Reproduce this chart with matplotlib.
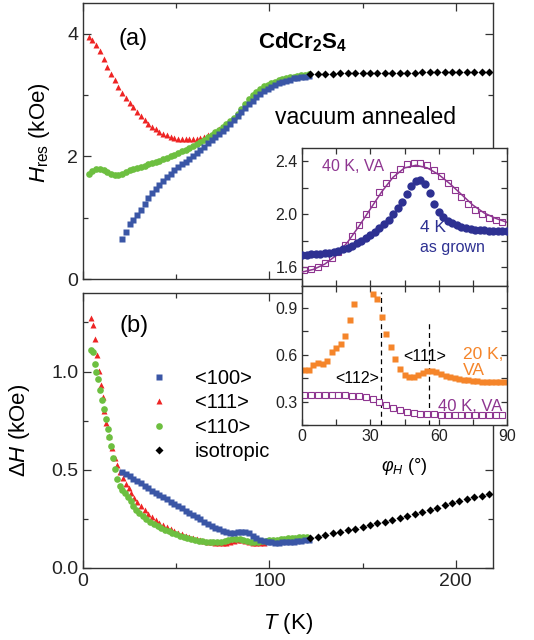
import numpy as np
import matplotlib.pyplot as plt
from matplotlib.ticker import MultipleLocator

plt.rcParams['font.family'] = ['Liberation Sans', 'DejaVu Sans']
plt.rcParams['mathtext.fontset'] = 'custom'
plt.rcParams['mathtext.rm'] = 'Liberation Sans'
plt.rcParams['mathtext.it'] = 'Liberation Sans:italic'
plt.rcParams['mathtext.bf'] = 'Liberation Sans:bold'

# ---- panel (a): resonance field vs T ----
T_red_a = [3, 5, 7, 9, 11, 13, 15, 17, 19, 21, 23, 25, 27, 29, 31, 33, 35, 37, 39,
           41, 43, 45, 47, 49, 51, 53, 55, 57, 59, 61, 63, 65, 67, 69, 71, 73, 75]
H_red = [3.95, 3.90, 3.82, 3.72, 3.58, 3.45, 3.34, 3.24, 3.13, 3.04, 2.95, 2.87, 2.80,
         2.72, 2.65, 2.59, 2.53, 2.48, 2.44, 2.40, 2.37, 2.34, 2.31, 2.30, 2.29, 2.28,
         2.28, 2.28, 2.28, 2.29, 2.30, 2.32, 2.34, 2.37, 2.40, 2.44, 2.48]

T_grn_a = [3, 5, 7, 9, 11, 13, 15, 17, 19, 21, 23, 25, 27, 29, 31, 33, 35, 37, 39, 41,
           43, 45, 47, 49, 51, 53, 55, 57, 59, 61, 63, 65, 67, 69, 71, 73, 75, 77, 79,
           81, 83, 85, 87, 89, 91, 93, 95, 97, 99, 101, 103, 105, 107, 109, 111, 113,
           115, 117, 119, 121]
H_grn = [1.71, 1.76, 1.79, 1.79, 1.77, 1.74, 1.71, 1.69, 1.70, 1.72, 1.75, 1.77, 1.79,
         1.81, 1.83, 1.85, 1.87, 1.89, 1.91, 1.93, 1.95, 1.98, 2.00, 2.02, 2.05, 2.08,
         2.11, 2.14, 2.17, 2.20, 2.23, 2.27, 2.31, 2.35, 2.39, 2.43, 2.48, 2.52, 2.57,
         2.62, 2.69, 2.77, 2.85, 2.93, 3.00, 3.05, 3.10, 3.14, 3.17, 3.19, 3.22, 3.24,
         3.26, 3.28, 3.29, 3.30, 3.31, 3.32, 3.33, 3.34]

T_blu_a = [21, 23, 25, 27, 29, 31, 33, 35, 37, 39, 41, 43, 45, 47, 49, 51, 53, 55, 57,
           59, 61, 63, 65, 67, 69, 71, 73, 75, 77, 79, 81, 83, 85, 87, 89, 91, 93, 95,
           97, 99, 101, 103, 105, 107, 109, 111, 113, 115, 117, 119, 121]
H_blu = [0.645, 0.77, 0.89, 0.97, 1.05, 1.13, 1.23, 1.32, 1.40, 1.47, 1.54, 1.60, 1.66,
         1.72, 1.77, 1.82, 1.87, 1.91, 1.96, 2.01, 2.06, 2.11, 2.16, 2.22, 2.27, 2.32,
         2.37, 2.42, 2.47, 2.53, 2.59, 2.65, 2.72, 2.78, 2.85, 2.91, 2.97, 3.02, 3.06,
         3.10, 3.13, 3.16, 3.19, 3.21, 3.23, 3.25, 3.27, 3.28, 3.29, 3.30, 3.31]

T_iso = [122, 126, 130, 134, 138, 142, 146, 150, 154, 158, 162, 166, 170, 174, 178,
         182, 186, 190, 194, 198, 202, 206, 210, 214, 218]
H_iso = [3.34, 3.345, 3.35, 3.35, 3.355, 3.355, 3.36, 3.36, 3.36, 3.36, 3.365, 3.365,
         3.365, 3.365, 3.365, 3.37, 3.37, 3.37, 3.37, 3.37, 3.37, 3.37, 3.37, 3.37, 3.37]

# ---- panel (b): linewidth vs T ----
T_red_b = [4.5, 5.5, 6.5, 7.5, 8.5, 9.5, 10.5, 11.5, 12.5, 14, 15.5, 17, 18.5, 20, 21.5,
           23, 24.5, 26, 27.5, 29, 31, 33, 35, 37, 39, 41, 43, 45, 47, 49, 51, 53, 55,
           57, 59, 61, 63, 65, 67, 69, 71, 73, 75, 77, 79, 81, 83, 85, 87, 89, 91, 93,
           95, 97]
dH_red = [1.275, 1.235, 1.165, 1.085, 1.005, 0.93, 0.87, 0.80, 0.74, 0.67, 0.61, 0.56,
          0.525, 0.49, 0.46, 0.43, 0.405, 0.38, 0.358, 0.338, 0.315, 0.295, 0.276,
          0.258, 0.243, 0.23, 0.218, 0.207, 0.197, 0.188, 0.18, 0.172, 0.165, 0.158,
          0.152, 0.146, 0.141, 0.137, 0.133, 0.13, 0.128, 0.127, 0.127, 0.129, 0.133,
          0.14, 0.145, 0.143, 0.137, 0.132, 0.129, 0.128, 0.128, 0.129]

T_grn_b = [4.5, 5.5, 6.3, 7.2, 8.2, 9.2, 10.2, 11.2, 12.2, 13.2, 14.2, 15.2, 16.3, 17.4,
           18.5, 19.6, 21, 22.5, 24, 25.5, 27, 28.5, 30, 32, 34, 36, 38, 40, 42, 44, 46,
           48, 50, 52, 54, 56, 58, 60, 62, 64, 66, 68, 70, 72, 74, 76, 78, 80, 82, 84,
           86, 88, 90, 92, 94, 96, 98, 100, 102, 104, 106, 108, 110, 112, 114, 116, 118,
           120]
dH_grn = [1.112, 1.10, 1.04, 1.00, 0.96, 0.905, 0.855, 0.81, 0.76, 0.71, 0.665, 0.62,
          0.56, 0.505, 0.455, 0.42, 0.398, 0.38, 0.36, 0.342, 0.316, 0.296, 0.282,
          0.266, 0.25, 0.236, 0.224, 0.213, 0.203, 0.194, 0.186, 0.178, 0.171, 0.164,
          0.158, 0.152, 0.147, 0.142, 0.138, 0.135, 0.133, 0.131, 0.131, 0.132, 0.134,
          0.137, 0.141, 0.146, 0.150, 0.149, 0.143, 0.137, 0.134, 0.133, 0.134, 0.136,
          0.139, 0.141, 0.143, 0.145, 0.147, 0.149, 0.151, 0.153, 0.155, 0.157, 0.159,
          0.160]

T_blu_b = [21, 23, 25, 27, 29, 31, 33, 35, 37, 39, 41, 43, 45, 47, 49, 51, 53, 55, 57,
           59, 61, 63, 65, 67, 69, 71, 73, 75, 77, 79, 81, 83, 85, 87, 89, 91, 93, 95,
           97, 99, 101, 103, 105, 107, 109, 111, 113, 115, 117, 119, 121]
dH_blu = [0.49, 0.478, 0.466, 0.454, 0.442, 0.432, 0.418, 0.405, 0.393, 0.382, 0.372,
          0.362, 0.35, 0.338, 0.326, 0.316, 0.304, 0.292, 0.281, 0.27, 0.259, 0.248,
          0.236, 0.226, 0.216, 0.206, 0.198, 0.19, 0.184, 0.18, 0.179, 0.181, 0.185,
          0.184, 0.177, 0.165, 0.153, 0.144, 0.137, 0.132, 0.13, 0.129, 0.129, 0.13,
          0.131, 0.132, 0.134, 0.137, 0.14, 0.142, 0.145]

dH_iso = [0.152, 0.16, 0.168, 0.176, 0.184, 0.192, 0.200, 0.209, 0.218, 0.227, 0.236,
          0.246, 0.256, 0.266, 0.276, 0.286, 0.297, 0.308, 0.322, 0.333, 0.343, 0.352,
          0.361, 0.369, 0.377]

# ---- inset, upper: angular dependence of H_res ----
phi_va = [1, 4, 7, 10, 13, 16, 19, 22, 25, 28, 31, 34, 37, 40, 43, 46, 49, 52, 55, 58,
          61, 64, 67, 70, 73, 76, 79, 82, 85, 88]
Hres_va = [1.58, 1.585, 1.60, 1.63, 1.67, 1.72, 1.77, 1.84, 1.92, 2.00, 2.08, 2.165,
           2.235, 2.30, 2.34, 2.38, 2.39, 2.385, 2.37, 2.335, 2.29, 2.24, 2.18, 2.13,
           2.08, 2.035, 2.00, 1.97, 1.955, 1.94]
phi_fit = [0, 5, 10, 15, 20, 25, 30, 35, 40, 45, 50, 55, 60, 65, 70, 75, 80, 85, 90]
Hres_fit = [1.565, 1.585, 1.625, 1.69, 1.79, 1.91, 2.04, 2.17, 2.28, 2.35, 2.37, 2.35,
            2.30, 2.23, 2.15, 2.07, 2.01, 1.97, 1.94]
phi_ag = [0, 2, 4, 6, 8, 10, 12, 14, 16, 18, 20, 22, 24, 26, 28, 30, 32, 34, 36, 38,
          40, 42, 44, 46, 48, 50, 52, 54, 56, 58, 60, 62, 64, 66, 68, 70, 72, 74, 76,
          78, 80, 82, 84, 86, 88, 90]
Hres_ag = [1.695, 1.697, 1.699, 1.701, 1.704, 1.708, 1.712, 1.718, 1.726, 1.737, 1.750,
           1.765, 1.782, 1.800, 1.822, 1.845, 1.868, 1.895, 1.925, 1.960, 2.000, 2.045,
           2.095, 2.150, 2.210, 2.250, 2.258, 2.230, 2.160, 2.080, 2.020, 1.980, 1.952,
           1.932, 1.918, 1.905, 1.897, 1.890, 1.885, 1.882, 1.880, 1.878, 1.877, 1.876,
           1.876, 1.876]

# ---- inset, lower: angular dependence of linewidth ----
phi_20 = [1, 3, 5, 7, 9, 11, 13, 15, 17, 19, 21, 23, 31, 33, 35, 37, 39, 41, 43, 45,
          47, 49, 51, 53, 55, 57, 59, 61, 63, 65, 67, 69, 71, 73, 75, 77, 79, 81, 83,
          85, 87, 89]
dH_20 = [0.50, 0.505, 0.535, 0.545, 0.538, 0.56, 0.615, 0.64, 0.67, 0.72, 0.82, 0.925,
         0.99, 0.955, 0.84, 0.73, 0.65, 0.575, 0.51, 0.47, 0.457, 0.457, 0.47, 0.485,
         0.498, 0.497, 0.487, 0.477, 0.466, 0.456, 0.448, 0.443, 0.438, 0.435, 0.432,
         0.43, 0.428, 0.427, 0.427, 0.427, 0.427, 0.427]
phi_40 = [1, 4, 7, 10, 13, 16, 19, 22, 25, 28, 31, 34, 37, 40, 43, 46, 49, 52, 55, 58,
          61, 64, 67, 70, 73, 76, 79, 82, 85, 88]
dH_40 = [0.343, 0.343, 0.343, 0.343, 0.343, 0.342, 0.341, 0.338, 0.334, 0.328, 0.318,
         0.296, 0.275, 0.257, 0.243, 0.232, 0.225, 0.221, 0.219, 0.218, 0.217, 0.216,
         0.215, 0.215, 0.214, 0.214, 0.214, 0.213, 0.213, 0.213]
phi_112 = 34.8
phi_111 = 55.8

c_red = '#ee2424'
c_grn = '#6dbf40'
c_blu = '#3a56a6'
c_dark = '#2e3192'
c_pur = '#8e3590'
c_org = '#f5852a'

fig = plt.figure(figsize=(5.34, 6.4), dpi=100)
W, H = 534, 640
ax1 = fig.add_axes([83 / W, 1 - 279 / H, 410 / W, 276 / H])
ax2 = fig.add_axes([83 / W, 1 - 568 / H, 410 / W, 275 / H])
ins1 = fig.add_axes([302 / W, 1 - 286 / H, 205 / W, 138 / H])
ins2 = fig.add_axes([302 / W, 1 - 425 / H, 205 / W, 139 / H])

ms = 4.8
ms_sq = 4.2
# panel (a)
ax1.plot(T_red_a, H_red, '^', color=c_red, ms=ms, mec='none')
ax1.plot(T_grn_a, H_grn, 'o', color=c_grn, ms=ms, mec='none')
ax1.plot(T_blu_a, H_blu, 's', color=c_blu, ms=ms_sq, mec='none')
ax1.plot(T_iso, H_iso, 'D', color='black', ms=4.3, mec='none')

ax1.set_xlim(0, 220)
ax1.set_ylim(0, 4.5)
ax1.yaxis.set_major_locator(MultipleLocator(2))
ax1.yaxis.set_minor_locator(MultipleLocator(1))
ax1.set_ylabel(r'$H_{\rm res}$ (kOe)', fontsize=16)
ax1.yaxis.set_label_coords(-0.075, 0.53)
ax1.tick_params(labelbottom=False)
ax1.text(27, 3.92, '(a)', fontsize=17, ha='center', va='center')
ax1.text(118, 3.86, r'$\mathbf{CdCr_2S_4}$', fontsize=16, ha='center', va='center')
ax1.text(103, 2.63, 'vacuum annealed', fontsize=16.5, ha='left', va='center')

# panel (b)
ax2.plot(T_red_b, dH_red, '^', color=c_red, ms=ms, mec='none', label='<111>')
ax2.plot(T_grn_b, dH_grn, 'o', color=c_grn, ms=ms, mec='none', label='<110>')
ax2.plot(T_blu_b, dH_blu, 's', color=c_blu, ms=ms_sq, mec='none', label='<100>')
ax2.plot(T_iso, dH_iso, 'D', color='black', ms=4.3, mec='none', label='isotropic')

ax2.set_xlim(0, 220)
ax2.set_ylim(0, 1.4)
ax2.yaxis.set_major_locator(MultipleLocator(0.5))
ax2.yaxis.set_minor_locator(MultipleLocator(0.25))
ax2.yaxis.set_major_formatter(plt.FormatStrFormatter('%.1f'))
ax2.set_xlabel(r'$T$ (K)', fontsize=16)
ax2.xaxis.set_label_coords(0.5, -0.155)
ax2.set_ylabel(r'$\Delta H$ (kOe)', fontsize=16)
ax2.yaxis.set_label_coords(-0.125, 0.5)
ax2.text(27.4, 1.23, '(b)', fontsize=17, ha='center', va='center')

handles, labels = ax2.get_legend_handles_labels()
order = [2, 0, 1, 3]
ax2.legend([handles[i] for i in order], [labels[i] for i in order],
           loc='upper left', bbox_to_anchor=(0.14, 0.753), frameon=False,
           fontsize=14.5, numpoints=1, handlelength=1.0, handletextpad=1.3,
           labelspacing=0.27, borderaxespad=0)

for ax in (ax1, ax2):
    ax.xaxis.set_major_locator(MultipleLocator(100))
    ax.xaxis.set_minor_locator(MultipleLocator(50))
    ax.tick_params(which='both', direction='in', top=True, right=True,
                   labelsize=14, width=0.9, colors='#333333', labelcolor='#222222')
    ax.tick_params(which='major', length=6)
    ax.tick_params(which='minor', length=3.5)
    for s in ax.spines.values():
        s.set_linewidth(1.0)
        s.set_color('#333333')

# upper inset
ins1.plot(phi_fit, Hres_fit, '-', color=c_pur, lw=1.1, zorder=3)
ins1.plot(phi_va, Hres_va, 's', mfc='none', mec=c_pur, mew=0.8, ms=3.8, zorder=2)
ins1.plot(phi_ag, Hres_ag, 'o', color=c_dark, ms=6.0, mec='none', zorder=4)
ins1.set_xlim(0, 90)
ins1.set_ylim(1.46, 2.5)
ins1.yaxis.set_major_locator(MultipleLocator(0.4))
ins1.yaxis.set_minor_locator(MultipleLocator(0.2))
ins1.yaxis.set_major_formatter(plt.FormatStrFormatter('%.1f'))
ins1.tick_params(labelbottom=False)
ins1.text(9, 2.36, '40 K, VA', color=c_pur, fontsize=11.5, ha='left', va='center')
ins1.text(52, 1.90, '4 K', color=c_dark, fontsize=12.5, ha='left', va='center')
ins1.text(52, 1.75, 'as grown', color=c_dark, fontsize=11.5, ha='left', va='center')

# lower inset
ins2.axvline(phi_112, ymin=0, ymax=0.96, color='black', ls=(0, (4, 3)), lw=0.9)
ins2.axvline(phi_111, ymin=0, ymax=0.75, color='black', ls=(0, (4, 3)), lw=0.9)
ins2.plot(phi_40, dH_40, 's', mfc='white', mec=c_pur, mew=0.8, ms=3.8)
ins2.plot(phi_20, dH_20, 's', color=c_org, ms=4.2, mec='none')
ins2.set_xlim(0, 90)
ins2.set_ylim(0.15, 1.04)
ins2.yaxis.set_major_locator(MultipleLocator(0.3))
ins2.yaxis.set_minor_locator(MultipleLocator(0.15))
ins2.yaxis.set_major_formatter(plt.FormatStrFormatter('%.1f'))
ins2.set_xlabel(r'$\varphi_H$ ($\degree$)', fontsize=13, labelpad=2)
ins2.xaxis.set_label_coords(0.5, -0.22)
ins2.text(33.8, 0.445, '<112>', fontsize=11.5, ha='right', va='center')
ins2.text(54, 0.59, '<111>', fontsize=11.5, ha='center', va='center')
ins2.text(70.5, 0.55, '20 K,\nVA', color=c_org, fontsize=12.5, ha='left', va='center',
          linespacing=1.05)
ins2.text(59.5, 0.27, '40 K, VA', color=c_pur, fontsize=12, ha='left', va='center')

for ax in (ins1, ins2):
    ax.set_facecolor('white')
    ax.xaxis.set_major_locator(MultipleLocator(30))
    ax.xaxis.set_minor_locator(MultipleLocator(15))
    ax.tick_params(which='both', direction='in', top=True, right=True,
                   labelsize=11.5, width=0.9, pad=3, colors='#333333',
                   labelcolor='#222222')
    ax.tick_params(which='major', length=4.5)
    ax.tick_params(which='minor', length=4.5)
    for s in ax.spines.values():
        s.set_linewidth(1.0)
        s.set_color('#333333')

fig.savefig('out.png', dpi=100)
